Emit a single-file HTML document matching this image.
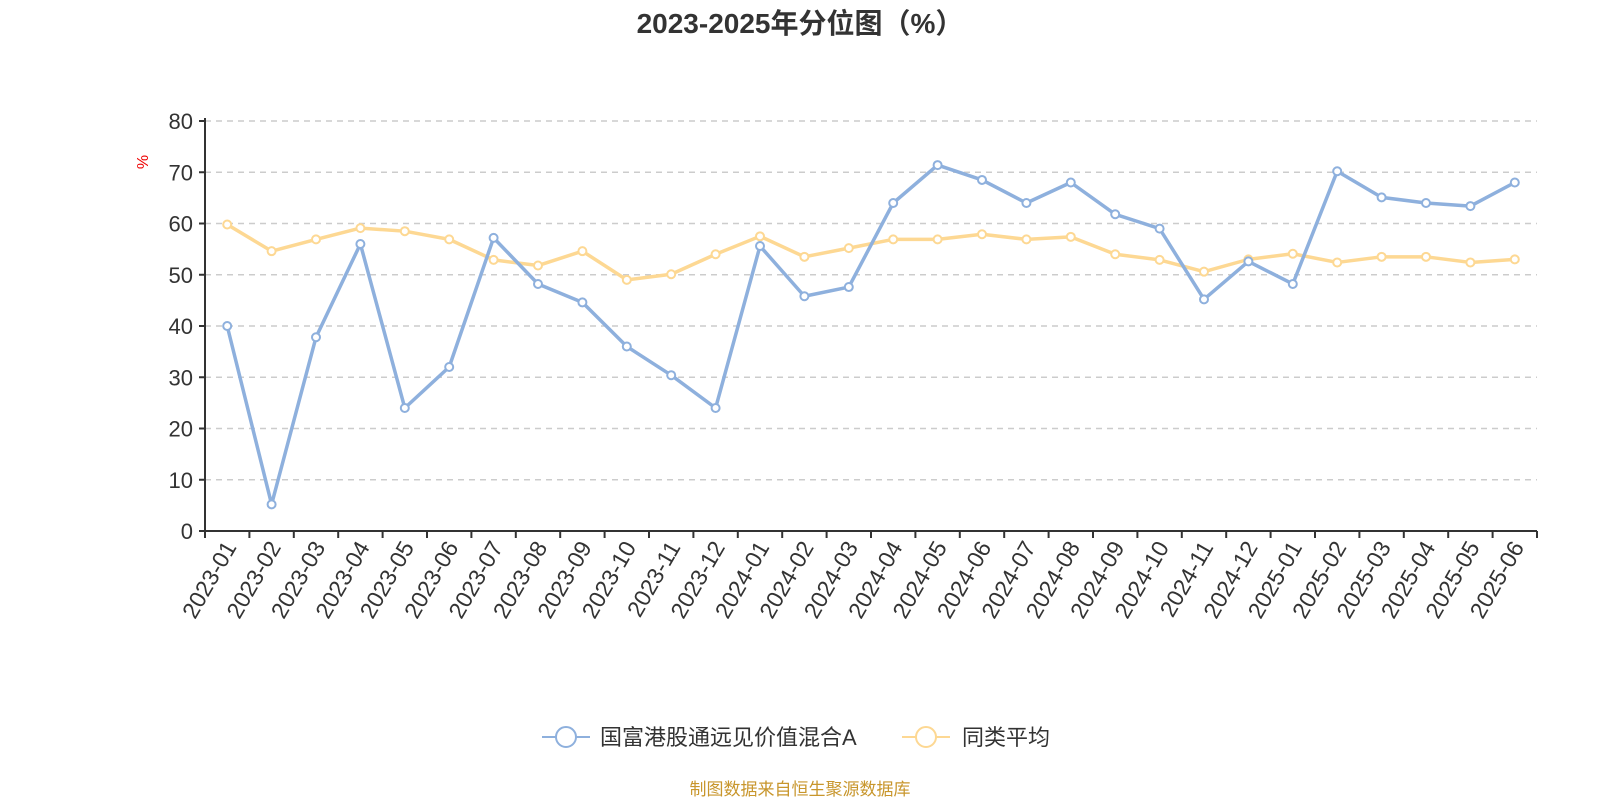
<!DOCTYPE html>
<html><head><meta charset="utf-8"><style>
body{margin:0;background:#fff;}
svg{display:block;font-family:"Liberation Sans","Noto Sans CJK SC",sans-serif;}
</style></head><body>
<svg id="c" width="1600" height="800">
<text x="800" y="33" text-anchor="middle" font-size="28" font-weight="bold" fill="#333">2023-2025年分位图（%）</text>
<text transform="translate(148,162) rotate(-90)" text-anchor="middle" font-size="16" fill="#e00">%</text>
<g id="grid"></g><g id="axes"></g><g id="series"></g>
<g>
<g>
<line x1="542" y1="737" x2="590" y2="737" stroke="#8eb0dd" stroke-width="2"/>
<circle cx="566" cy="737" r="10" fill="#fff" stroke="#8eb0dd" stroke-width="2"/>
<text x="600" y="745" font-size="22" fill="#333">国富港股通远见价值混合A</text></g>
<g>
<line x1="902" y1="737" x2="950" y2="737" stroke="#fdd893" stroke-width="2"/>
<circle cx="926" cy="737" r="10" fill="#fff" stroke="#fdd893" stroke-width="2"/>
<text x="962" y="745" font-size="22" fill="#333">同类平均</text></g>
</g>
<text x="800" y="795" text-anchor="middle" font-size="17" fill="#c8962c">制图数据来自恒生聚源数据库</text>
</svg>
<script>
const categories=["2023-01","2023-02","2023-03","2023-04","2023-05","2023-06","2023-07","2023-08","2023-09","2023-10","2023-11","2023-12","2024-01","2024-02","2024-03","2024-04","2024-05","2024-06","2024-07","2024-08","2024-09","2024-10","2024-11","2024-12","2025-01","2025-02","2025-03","2025-04","2025-05","2025-06"];
const fundValues=[40,5.2,37.8,56,24,32,57.2,48.2,44.6,36,30.4,24,55.6,45.8,47.6,64,71.4,68.5,64,68,61.8,59,45.2,52.6,48.2,70.2,65.1,64,63.4,68];
const avgValues=[59.8,54.6,56.9,59.1,58.5,56.9,52.9,51.8,54.6,49,50.1,54,57.5,53.5,55.2,56.9,56.9,57.9,56.9,57.4,54,52.9,50.6,53,54.1,52.4,53.5,53.5,52.4,53];
const yTicks=[0,10,20,30,40,50,60,70,80];
const NS="http://www.w3.org/2000/svg";
const L=205,R=1537,T=121,B=531,YMAX=80;
const band=(R-L)/categories.length;
const xs=i=>L+band*(i+0.5);
const ys=v=>B-(v/YMAX)*(B-T);
function mk(t,a,p){const e=document.createElementNS(NS,t);for(const k in a)e.setAttribute(k,a[k]);p.appendChild(e);return e;}
const grid=document.getElementById('grid'),axes=document.getElementById('axes'),ser=document.getElementById('series');
yTicks.forEach(v=>{
 if(v>0){const g=mk('line',{x1:L,x2:R,y1:ys(v),y2:ys(v),stroke:'#ccc','stroke-width':1.5,'stroke-dasharray':'6,5'},grid);
 
 }
 mk('line',{x1:L-6,x2:L,y1:ys(v),y2:ys(v),stroke:'#333','stroke-width':2},axes);
 const t=mk('text',{x:L-12,y:ys(v)+8,'text-anchor':'end','font-size':22,fill:'#333'},axes);t.textContent=v;
 
 
});
const ya=mk('line',{x1:L,x2:L,y1:T-3,y2:B,stroke:'#333','stroke-width':2},axes);


const xa=mk('line',{x1:L,x2:R,y1:B,y2:B,stroke:'#333','stroke-width':2},axes);


for(let i=0;i<=categories.length;i++)mk('line',{x1:L+band*i,x2:L+band*i,y1:B,y2:B+7,stroke:'#333','stroke-width':2},axes);
categories.forEach((c,i)=>{
 const t=mk('text',{transform:`translate(${xs(i)+10},${B+16}) rotate(-60)`,'text-anchor':'end','font-size':23,fill:'#333'},axes);
 t.textContent=c;
 
 
});
function draw(vals,color,name){
 const g=mk('g',{},ser);
 
 
 mk('polyline',{points:vals.map((v,i)=>xs(i)+','+ys(v)).join(' '),fill:'none',stroke:color,'stroke-width':3.5,'stroke-linejoin':'round'},g);
 vals.forEach((v,i)=>{const p=mk('circle',{cx:xs(i),cy:ys(v),r:4,fill:'#fff',stroke:color,'stroke-width':2},g);
 
 });
}
draw(avgValues,'#fdd893','average-series');
draw(fundValues,'#8eb0dd','fund-series');
</script>
</body></html>
